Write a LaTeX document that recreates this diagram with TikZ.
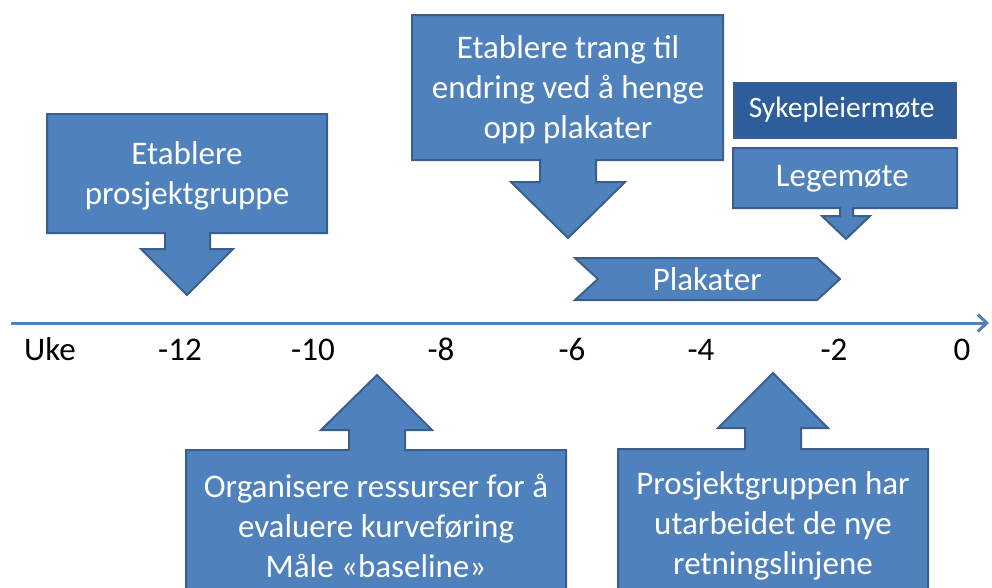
\documentclass[tikz,border=0pt]{standalone}
\usepackage{fontspec}
\setmainfont{Carlito}
\usepackage{tikz}
\usetikzlibrary{arrows.meta}
\definecolor{boxblue}{HTML}{4F81BD}
\definecolor{boxedge}{HTML}{3A5F8E}
\definecolor{darkblue}{HTML}{2E5D9B}

\begin{document}
\begin{tikzpicture}[x = 1pt, y = -1pt,
    every node/.style = { align = center, text = white, font = \fontsize{33}{40}\selectfont },
    callout/.style = { fill = boxblue, draw = boxedge, line width = 2pt },
    axislabel/.style = { text = black, anchor = base }]
  \path[use as bounding box] (0,0) rectangle (992,587);
  \clip (0,0) rectangle (992,587);
  % timeline
  \coordinate (start) at (11,323);
  \coordinate (end) at (989,323);
  \draw[boxblue, line width = 3pt, -{Straight Barb[length = 9pt, width = 17pt]}] (start) -- (end);
  \node[axislabel] (uke) at (50,360) {Uke};
  \foreach \week/\x in {-12/180, -10/313, -8/441, -6/572, -4/701, -2/834, 0/962}
    \node[axislabel] (w\week) at (\x,360) {\week};
  % over the line
  \draw[callout] (47,114) -- (327,114) -- (327,233) -- (210,233) -- (210,249) -- (233,249)
    -- (187,295) -- (141,249) -- (165,249) -- (165,233) -- (47,233) -- cycle;
  \node (gruppe) at (187,176) { Etablere \\ prosjektgruppe };
  \draw[callout] (412,15) -- (723,15) -- (723,160) -- (596,160) -- (596,182) -- (625,182)
    -- (568,238) -- (511,182) -- (540,182) -- (540,160) -- (412,160) -- cycle;
  \node (trang) at (568,90) { Etablere trang til \\ endring ved å henge \\ opp plakater };
  \node[fill = darkblue, draw = boxedge, line width = 2pt, minimum width = 222pt, minimum height = 55pt,
    font = \fontsize{29.5}{35}\selectfont] (sykepleier) at (845,110) { Sykepleiermøte };
  \draw[callout] (733,148) -- (957,148) -- (957,208) -- (853,208) -- (853,216) -- (870,216)
    -- (846,239) -- (822,216) -- (840,216) -- (840,208) -- (733,208) -- cycle;
  \node (lege) at (846,179) { Legemøte };
  \draw[callout] (575,258) -- (817,258) -- (840,279) -- (817,300) -- (575,300) -- (598,279) -- cycle;
  \node (plakater) at (711,279) { Plakater };
  % under the line
  \draw[callout] (186,600) -- (186,450) -- (349,450) -- (349,430) -- (321,430) -- (377,375)
    -- (432,430) -- (405,430) -- (405,450) -- (566,450) -- (566,600);
  \node (ressurser) at (376,526) { Organisere ressurser for å \\ evaluere kurveføring \\ Måle «baseline» };
  \draw[callout] (618,600) -- (618,449) -- (745,449) -- (745,428) -- (718,428) -- (773,373)
    -- (828,428) -- (801,428) -- (801,449) -- (928,449) -- (928,600);
  \node (retning) at (773,526) { Prosjektgruppen har \\ utarbeidet de nye \\ retningslinjene };
\end{tikzpicture}
\end{document}
